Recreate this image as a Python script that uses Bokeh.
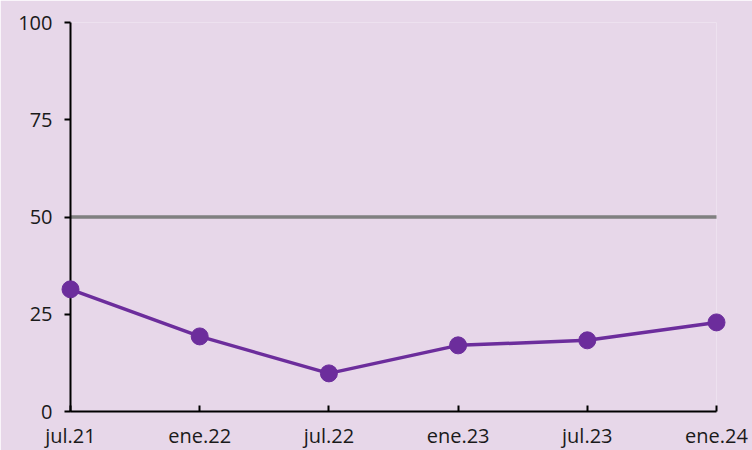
from bokeh.plotting import figure
from bokeh.models import Range1d, FixedTicker
from bokeh.embed import file_html
from bokeh.resources import INLINE

categories = ["jul.21", "ene.22", "jul.22", "ene.23", "jul.23", "ene.24"]
values = [31.4, 19.3, 9.8, 17.0, 18.3, 22.9]
reference_level = 50
y_ticks = [0, 25, 50, 75, 100]

x = list(range(len(categories)))
BG = "#e7d7e9"
PURPLE = "#6c2d9c"

p = figure(frame_width=646, frame_height=389, output_backend="svg", toolbar_location=None,
           x_range=Range1d(0, len(categories) - 1), y_range=Range1d(0, 100),
           background_fill_color=BG, border_fill_color=BG,
           min_border_left=70, min_border_right=36, min_border_top=22, min_border_bottom=30)
p.outline_line_color = None
p.grid.visible = False

p.line(x, [reference_level] * len(x), line_color="#808080", line_width=3.5, line_cap="round")
p.line(x, values, line_color=PURPLE, line_width=3.5, level="overlay")
p.scatter(x, values, size=17, fill_color=PURPLE, line_color=PURPLE, level="overlay")

p.xaxis.ticker = FixedTicker(ticks=x)
p.xaxis.major_label_overrides = {i: c for i, c in enumerate(categories)}
p.yaxis.ticker = FixedTicker(ticks=y_ticks)

for ax in (p.xaxis[0], p.yaxis[0]):
    ax.axis_line_color = "#000000"
    ax.axis_line_width = 2
    ax.major_tick_line_color = "#000000"
    ax.major_tick_line_width = 2
    ax.minor_tick_line_color = None
    ax.major_label_text_font = "Open Sans"
    ax.major_label_text_font_size = "20px"
    ax.major_label_text_color = "#1a1a1a"

p.xaxis.major_tick_in = 6
p.xaxis.major_tick_out = 0
p.xaxis.major_label_standoff = 10
p.yaxis.major_tick_in = 0
p.yaxis.major_tick_out = 6
p.yaxis.major_label_standoff = 12

open("out.html", "w").write(file_html(p, INLINE))
